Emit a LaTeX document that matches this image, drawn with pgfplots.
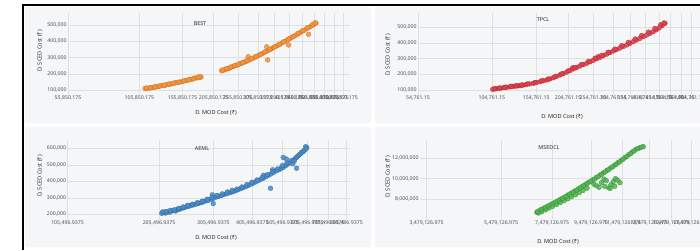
\documentclass[border=0pt]{standalone}
\usepackage{pgfplots}
\pgfplotsset{compat=1.18}
\usepackage{fontspec}
\setmainfont{Noto Sans}
\definecolor{panelbg}{RGB}{245,246,248}
\definecolor{gridc}{RGB}{222,224,228}
\definecolor{tickc}{RGB}{80,80,80}
\definecolor{labc}{RGB}{40,40,40}
\definecolor{bestc}{RGB}{242,133,34}
\definecolor{tpclc}{RGB}{214,38,52}
\definecolor{aemlc}{RGB}{50,122,190}
\definecolor{msedc}{RGB}{58,170,58}
\pgfplotsset{
  myaxis/.style={
    scale only axis, axis line style={draw=none},
    major tick length=0pt, grid=major,
    major grid style={gridc, line width=0.5pt},
    tick label style={font=\fontsize{5.2}{6}\selectfont, text=tickc},
    xticklabel style={inner sep=1pt},
    yticklabel style={inner sep=1.2pt},
    scaled x ticks=false, scaled y ticks=false,
    clip=true,
  },
  mydots/.style={only marks, mark=*, mark size=2.4pt,
    mark options={fill=#1!88!white, draw=#1!85!black, line width=0.25pt, fill opacity=0.85}},
}
\newcommand{\ylab}{\fontsize{5.6}{6}\selectfont\bfseries\color{labc} D. SCED Cost (₹)}
\newcommand{\xlab}{\fontsize{5.6}{6}\selectfont\bfseries\color{labc} D. MOD Cost (₹)}
\newcommand{\ttl}[1]{\fontsize{5.4}{6}\selectfont\bfseries\color{labc} #1}
\begin{document}
\begin{tikzpicture}
\fill[white] (0pt,0pt) rectangle (700pt,250pt);
\fill[panelbg, rounded corners=2pt] (25pt,127pt) rectangle (371pt,243pt);
\fill[panelbg, rounded corners=2pt] (375pt,127pt) rectangle (720pt,243pt);
\fill[panelbg, rounded corners=2pt] (25pt,3pt) rectangle (371pt,123pt);
\fill[panelbg, rounded corners=2pt] (375pt,3pt) rectangle (720pt,123pt);
\draw[black, line width=2pt] (23pt,0pt) -- (23pt,245pt) -- (700pt,245pt);

% ---------- BEST ----------
\begin{axis}[myaxis, xmode=log, at={(68pt,155pt)}, anchor=south west, width=282pt, height=82pt,
  xmin=55850, xmax=698700, ymin=71200, ymax=574000,
  xtick={55850.175,105850.175,155850.175,205850.175,255850.175,305850.175,355850.175,405850.175,455850.175,505850.175,555850.175,605850.175,655850.175},
  xticklabels={{55,850.175},{105,850.175},{155,850.175},{205,850.175},{255,850.175},{305,850.175},{355,850.175},{405,850.175},{455,850.175},{505,850.175},{555,850.175},{605,850.175},{655,850.175}},
  ytick={100000,200000,300000,400000,500000},
  yticklabels={{100,000},{200,000},{300,000},{400,000},{500,000}}]
\addplot[mydots=bestc] coordinates {
(111300,112000)(113500,110500)(115800,114200)(118000,115500)(120500,118800)(123000,121000)
(125500,123500)(128000,127500)(131000,129000)(133500,131500)(136500,135800)(139500,137500)
(142500,141000)(146000,146500)(149000,147000)(152500,151000)(156000,154500)(159500,158800)
(163000,161000)(166500,167000)(170000,168500)(173500,174500)(177000,176000)(180500,178000)
(184000,181000)(182000,183500)
(112800,114500)(117000,116800)(121800,121500)(126800,126000)(132200,132500)(138000,139500)
(144000,144000)(150800,150500)(157500,158000)(164800,165000)(171800,172500)(178800,180500)
(221000,220000)(225000,223500)(229000,228000)(233000,232000)(237500,236000)(242000,243500)
(246500,247000)(251000,252500)(255500,255500)(260000,262000)(265000,266500)(270000,272000)
(275000,276500)(280500,306000)(280000,283000)(286000,289500)(292000,295000)(298000,302500)
(304000,309000)(310000,316500)(316500,323000)(323000,330000)(330000,338500)(331000,367000)
(334000,286000)(337000,346000)(344000,353500)(351000,360000)(358500,368500)(366000,375500)
(374000,384000)(382000,392500)(390000,400000)(398500,409000)(403000,378000)(407000,417000)
(416000,425500)(425000,433000)(434000,441500)(443500,450500)(453000,459000)(463000,468000)
(473000,476500)(482000,443500)(483500,485500)(494000,494000)(505000,503000)(515000,512000)
(223000,225000)(231000,233500)(239500,241500)(248500,251500)(257500,261000)(267500,271000)
(277500,282500)(289000,296000)(301000,308000)(313000,321500)(326500,336000)(340500,351500)
(355000,366000)(370000,381500)(386000,398000)(403000,414500)(420500,431000)(439000,449500)
(458000,467000)(478000,484500)(499000,503500)(511000,514000)
};
\end{axis}

% ---------- TPCL ----------
\begin{axis}[myaxis, xmode=log, at={(418pt,155pt)}, anchor=south west, width=282pt, height=82pt,
  xmin=54761, xmax=653000, ymin=68100, ymax=591000,
  xtick={54761.15,104761.15,154761.15,204761.15,254761.15,304761.15,354761.15,404761.15,454761.15,504761.15,554761.15,604761.15},
  xticklabels={{54,761.15},{104,761.15},{154,761.15},{204,761.15},{254,761.15},{304,761.15},{354,761.15},{404,761.15},{454,761.15},{504,761.15},{554,761.15},{604,761.15}},
  ytick={100000,200000,300000,400000,500000},
  yticklabels={{100,000},{200,000},{300,000},{400,000},{500,000}}]
\addplot[mydots=tpclc] coordinates {
(105600,104300)(108000,107500)(110500,109800)(113500,112000)(116500,114800)(119400,117000)
(122500,120000)(125500,122500)(128500,124500)(131500,126000)(134200,127600)(137800,131500)
(141500,134500)(146000,138500)(150900,142500)(155000,148000)(160000,153000)(164800,158500)
(169600,163800)(174500,170500)(179800,178000)(185000,187000)(190700,195700)(196000,204000)
(202000,213500)(208000,223500)(213000,241000)(214400,234000)(220500,243500)(227000,252500)
(234000,261500)(241200,270000)(248500,279500)(255500,289000)(263000,299000)(266000,312000)
(271100,308000)(279000,318500)(287500,329000)(296000,339000)(304900,348800)(313500,358000)
(323000,367500)(332500,377000)(342700,387000)(353000,397500)(363500,408500)(374000,419000)
(385300,429600)(396500,440000)(408500,450500)(421000,461500)(433200,472000)(445000,484000)
(456500,497000)(468000,511000)(480000,525000)
(107000,108000)(112000,112800)(118000,118500)(124000,124200)(130000,127800)(136000,132000)
(143500,139000)(153000,148000)(162500,159000)(172000,170000)(182500,184500)(193500,203000)
(205000,222000)(217500,243000)(230500,263500)(245000,283000)(259500,302500)(275000,321000)
(291500,341000)(309000,361000)(328000,382500)(348000,404000)(369000,425500)(391000,447500)
(415000,469500)(439000,492500)(462000,516000)(476000,528000)
};
\end{axis}

% ---------- AEML ----------
\begin{axis}[myaxis, xmode=log, at={(67.5pt,30pt)}, anchor=south west, width=282.5pt, height=80pt,
  xmin=105496, xmax=826500, ymin=165500, ymax=650300,
  xtick={105496.9375,205496.9375,305496.9375,405496.9375,505496.9375,605496.9375,705496.9375,805496.9375},
  xticklabels={{105,496.9375},{205,496.9375},{305,496.9375},{405,496.9375},{505,496.9375},{605,496.9375},{705,496.9375},{805,496.9375}},
  ytick={200000,300000,400000,500000,600000},
  yticklabels={{200,000},{300,000},{400,000},{500,000},{600,000}}]
\addplot[mydots=aemlc] coordinates {
(209600,206000)(212500,211000)(215000,207500)(218000,214000)(221500,212000)(225000,219500)
(228500,222000)(232000,220000)(235500,228500)(239000,231000)(243000,236500)(247000,240000)
(251400,246000)(255500,249000)(260000,253500)(264500,257500)(269000,262000)(274000,266500)
(279000,270000)(284000,275500)(289000,281000)(294500,285000)(300000,292000)(305300,297000)
(305000,265000)(303000,318000)(311000,304000)(317000,308500)(323000,313000)(329000,319500)
(335000,324000)(341000,329000)(347000,333000)(353000,337000)(359500,343000)(366000,350000)
(372500,355500)(379500,362000)(386500,368000)(394000,375000)(401000,382500)(408600,389000)
(416000,397000)(423500,405000)(431500,412500)(439500,418500)(440000,437000)(448000,428000)
(456500,437000)(463000,358000)(465000,445000)(470000,470000)(474000,455000)(483000,463500)
(492000,470000)(500000,478000)(508400,485000)(508000,545000)(517000,495000)(520000,535000)
(526000,505000)(535000,515000)(545000,506000)(547000,528000)(556000,541000)(560000,479000)
(565000,553000)(575000,565000)(585000,578000)(594000,590000)(603000,605000)(598000,610000)
(211000,215000)(216500,217500)(223000,224000)(230000,228000)(237000,236000)(245000,244500)
(253000,255000)(262000,261500)(271500,271000)(281500,280000)(291500,291500)(302000,301000)
(314000,314500)(326000,324000)(338000,335500)(350000,346000)(362500,353000)(376000,366000)
(390000,380000)(404500,394500)(419500,408000)(435500,422500)(452000,440000)(469500,458000)
(487500,475000)(504000,495000)(521500,510000)(540000,527000)(551000,525000)(560000,545000)
(570000,560000)(580000,575000)(590000,583000)(600000,598000)
};
\end{axis}

% ---------- MSEDCL ----------
\begin{axis}[myaxis, xmode=log, at={(420pt,30pt)}, anchor=south west, width=280pt, height=80pt,
  xmin=3344000, xmax=18410000, ymin=5936000, ymax=13800000,
  xtick={3479126.975,5479126.975,7479126.975,9479126.975,11479126.975,13479126.975,15479126.975,17479126.975},
  xticklabels={{3,479,126.975},{5,479,126.975},{7,479,126.975},{9,479,126.975},{11,479,126.975},{13,479,126.975},{15,479,126.975},{17,479,126.975}},
  ytick={8000000,10000000,12000000},
  yticklabels={{8,000,000},{10,000,000},{12,000,000}}]
\addplot[mydots=msedc] coordinates {
(6810000,6690000)(6950000,6900000)(7100000,7080000)(7250000,7250000)(7400000,7430000)
(7560000,7610000)(7720000,7790000)(7880000,7980000)(8050000,8170000)(8220000,8370000)
(8400000,8570000)(8580000,8780000)(8770000,8990000)(8960000,9210000)(9160000,9430000)
(9360000,9660000)(9570000,9890000)(9780000,10120000)(10000000,10350000)(10220000,10590000)
(10450000,10830000)(10680000,11070000)(10920000,11320000)(11160000,11570000)(11410000,11830000)
(11660000,12090000)(11920000,12360000)(12180000,12620000)(12450000,12890000)(12730000,13020000)
(13030000,13150000)
(6880000,6620000)(7020000,6760000)(7180000,6930000)(7340000,7110000)(7500000,7280000)
(7680000,7460000)(7860000,7650000)(8040000,7830000)(8230000,8020000)(8420000,8220000)
(8620000,8420000)(8820000,8630000)(9030000,8840000)(9250000,9070000)
(6840000,6760000)(7000000,6980000)(7160000,7160000)(7320000,7330000)(7480000,7520000)
(7640000,7690000)(7800000,7880000)(7970000,8070000)(8140000,8260000)(8310000,8470000)
(8490000,8670000)(8680000,8880000)(8870000,9100000)(9060000,9320000)(9260000,9540000)
(9470000,9720000)(9680000,9950000)(9890000,10180000)(10110000,10420000)(10330000,10660000)
(10560000,10900000)(10800000,11150000)(11040000,11400000)(11280000,11660000)(11530000,11920000)
(11790000,12180000)(12050000,12450000)(12310000,12720000)(12590000,12950000)(12880000,13100000)
(9650000,9450000)(9800000,9300000)(9950000,9150000)(10100000,9600000)(10250000,9950000)
(10400000,9800000)(10550000,9100000)(10700000,9400000)(10850000,9700000)(11000000,10000000)
(11150000,9850000)(11300000,9600000)(10300000,9250000)(10650000,9050000)(10950000,9250000)
};
\end{axis}

% ---------- labels ----------
\node[rotate=90] at (40pt,199pt) {\ylab};
\node[rotate=90] at (388pt,195pt) {\ylab};
\node[rotate=90] at (40pt,74pt) {\ylab};
\node[rotate=90] at (388pt,73pt) {\ylab};
\node at (216pt,137pt) {\xlab};
\node at (562pt,133pt) {\xlab};
\node at (216pt,12.5pt) {\xlab};
\node at (558pt,8.5pt) {\xlab};
\node at (200pt,226pt) {\ttl{BEST}};
\node at (543pt,230pt) {\ttl{TPCL}};
\node at (202pt,101pt) {\ttl{AEML}};
\node at (549pt,102pt) {\ttl{MSEDCL}};

\pgfresetboundingbox
\useasboundingbox (0pt,0pt) rectangle (700pt,250pt);
\end{tikzpicture}
\end{document}
